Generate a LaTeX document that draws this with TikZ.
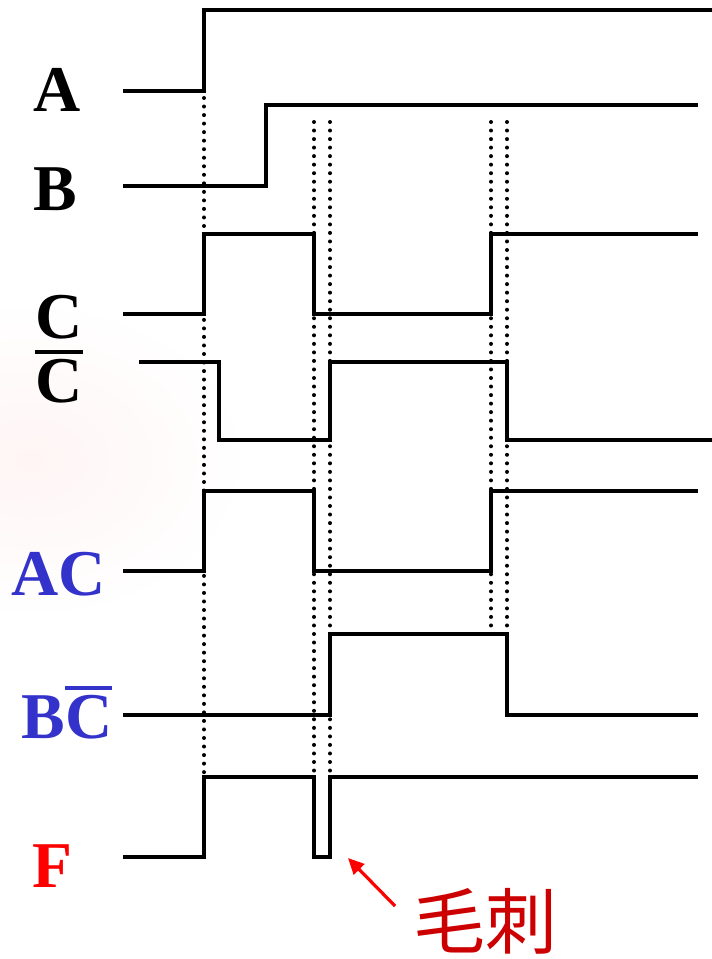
\documentclass[tikz,border=0pt]{standalone}
\usepackage{fontspec}
\setmainfont{Liberation Serif}
\newfontfamily\cjk{Noto Sans CJK SC}
\usetikzlibrary{arrows.meta}
\definecolor{sigblue}{HTML}{3333CC}
\definecolor{sigred}{HTML}{FF0000}
\definecolor{notered}{HTML}{CC0000}
\newcommand\barred[1]{\vbox{\hrule height 3pt\kern 3.75pt\hbox{#1}}}
\tikzset{
  wave/.style={line width=3pt, line join=miter},
  guide/.style={line width=3pt, line cap=round, dash pattern=on 0pt off 6.4pt},
  sig/.style={font=\fontsize{49}{58}\selectfont\bfseries, inner sep=0pt, anchor=base},
}
\begin{document}
\begin{tikzpicture}[x=0.75pt,y=-0.75pt]
    \useasboundingbox (0,0) rectangle (712,959);
    \shade[inner color=red!4, outer color=white] (30,460) ellipse [x radius=220, y radius=160];
    % time markers
    \foreach \x/\ya/\yb in {204/98/777, 314/122/775, 330/122/775, 491/122/632, 507/122/632}
    \draw[guide] (\x,\ya) -- (\x,\yb);
    % signals
    \draw[wave] (123,91) -- (204,91) -- (204,10) -- (712,10);
    \draw[wave] (123,186) -- (266,186) -- (266,105) -- (698,105);
    \draw[wave] (123,314) -- (204,314) -- (204,234) -- (314,234) -- (314,314) -- (491,314) -- (491,234) -- (698,234);
    \draw[wave] (139,362) -- (219,362) -- (219,440) -- (330,440) -- (330,362) -- (507,362) -- (507,440) -- (712,440);
    \draw[wave] (123,571) -- (204,571) -- (204,491) -- (314,491) -- (314,571) -- (491,571) -- (491,491) -- (698,491);
    \draw[wave] (123,715) -- (330,715) -- (330,634) -- (507,634) -- (507,715) -- (698,715);
    \draw[wave] (123,857) -- (204,857) -- (204,777) -- (314,777) -- (314,857) -- (330,857) -- (330,777) -- (698,777);
    % names
    \node[sig] (lA) at (57,112) {A};
    \node[sig] (lB) at (55,210) {B};
    \node[sig] (lC) at (59,338) {C};
    \node[sig] (lCn) at (59,402) {\barred{C}};
    \node[sig, text=sigblue] (lAC) at (59,595) {AC};
    \node[sig, text=sigblue] (lBCn) at (67,738) {B\barred{C}};
    \node[sig, text=sigred] (lF) at (52,887) {F};
    % glitch
    \node[font=\cjk\fontsize{54}{60}\selectfont, text=notered, inner sep=0pt] (glitch) at (485,921) {毛刺};
    \coordinate (spike) at (348,858);
    \coordinate (tail) at (395,906);
    \draw[sigred, line width=2.4pt, -{Triangle[length=12pt,width=11pt]}] (tail) -- (spike);
  \end{tikzpicture}
\end{document}
